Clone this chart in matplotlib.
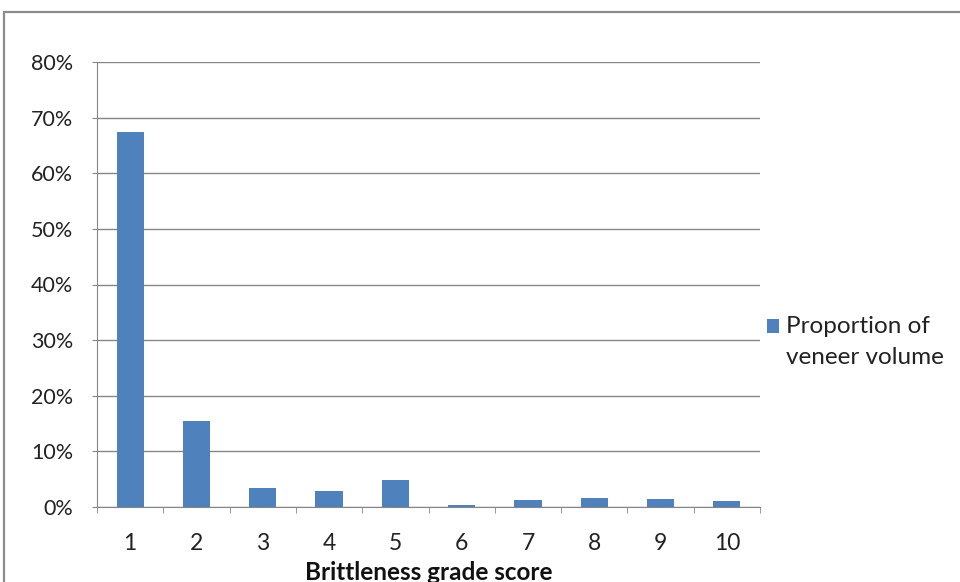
import matplotlib.pyplot as plt
from matplotlib.patches import Rectangle
from matplotlib.legend_handler import HandlerPatch
from matplotlib.ticker import PercentFormatter

# brittleness grade scores and share of veneer volume (%)
grades = [1, 2, 3, 4, 5, 6, 7, 8, 9, 10]
proportion = [67.5, 15.4, 3.5, 2.8, 4.9, 0.3, 1.2, 1.7, 1.4, 1.0]
series_name = 'Proportion of\nveneer volume'

plt.rcParams['font.family'] = ['Lato', 'DejaVu Sans']

fig = plt.figure(figsize=(9.6, 5.82), dpi=100)
ax = fig.add_axes([97 / 960, 75 / 582, 663 / 960, 445 / 582])

grid_col = '#868686'
bar_col = '#4F81BD'
ax.bar(grades, proportion, width=0.41, color=bar_col, zorder=3)

ax.set_xlim(0.5, 10.5)
ax.set_ylim(0, 80)
ax.set_yticks(range(0, 81, 10))
ax.yaxis.set_major_formatter(PercentFormatter(decimals=0))
ax.set_xticks(grades)
ax.set_xticks([g + 0.5 for g in range(0, 11)], minor=True)

ax.grid(axis='y', color=grid_col, lw=1, zorder=0)
for s in ['top', 'right']:
    ax.spines[s].set_visible(False)
for s in ['left', 'bottom']:
    ax.spines[s].set_color(grid_col)

ax.tick_params(axis='y', length=3.6, color=grid_col, pad=13.5, labelsize=15.5, labelcolor='#222222')
ax.tick_params(axis='x', which='major', length=0, pad=19, labelsize=16.5, labelcolor='#222222')
ax.tick_params(axis='x', which='minor', length=4.5, color=grid_col)

ax.set_xlabel('Brittleness grade score', fontsize=17.5, fontweight='bold', labelpad=5, color='#111111')


# legend key sits beside the first line of the two-line label
def top_square(legend, orig_handle, xdescent, ydescent, width, height, fontsize):
    return Rectangle((-xdescent, -ydescent + 11.5), width, height)


leg = fig.legend([Rectangle((0, 0), 1, 1, fc=bar_col)], [series_name],
                 loc='center left', bbox_to_anchor=(767 / 960, 1 - 342 / 582),
                 bbox_transform=fig.transFigure, frameon=False,
                 fontsize=17.5, handlelength=0.5, handleheight=0.5, handletextpad=0.3,
                 borderpad=0, borderaxespad=0,
                 handler_map={Rectangle: HandlerPatch(patch_func=top_square)})
for t in leg.get_texts():
    t.set_linespacing(1.55)
    t.set_color('#222222')

# chart frame, runs off the right and bottom edges
fig.add_artist(Rectangle((4 / 960, -0.2), 2, (570 / 582) + 0.2, transform=fig.transFigure,
                         fill=False, ec='#8c8c8c', lw=1.6))

fig.savefig('out.png', dpi=100)
